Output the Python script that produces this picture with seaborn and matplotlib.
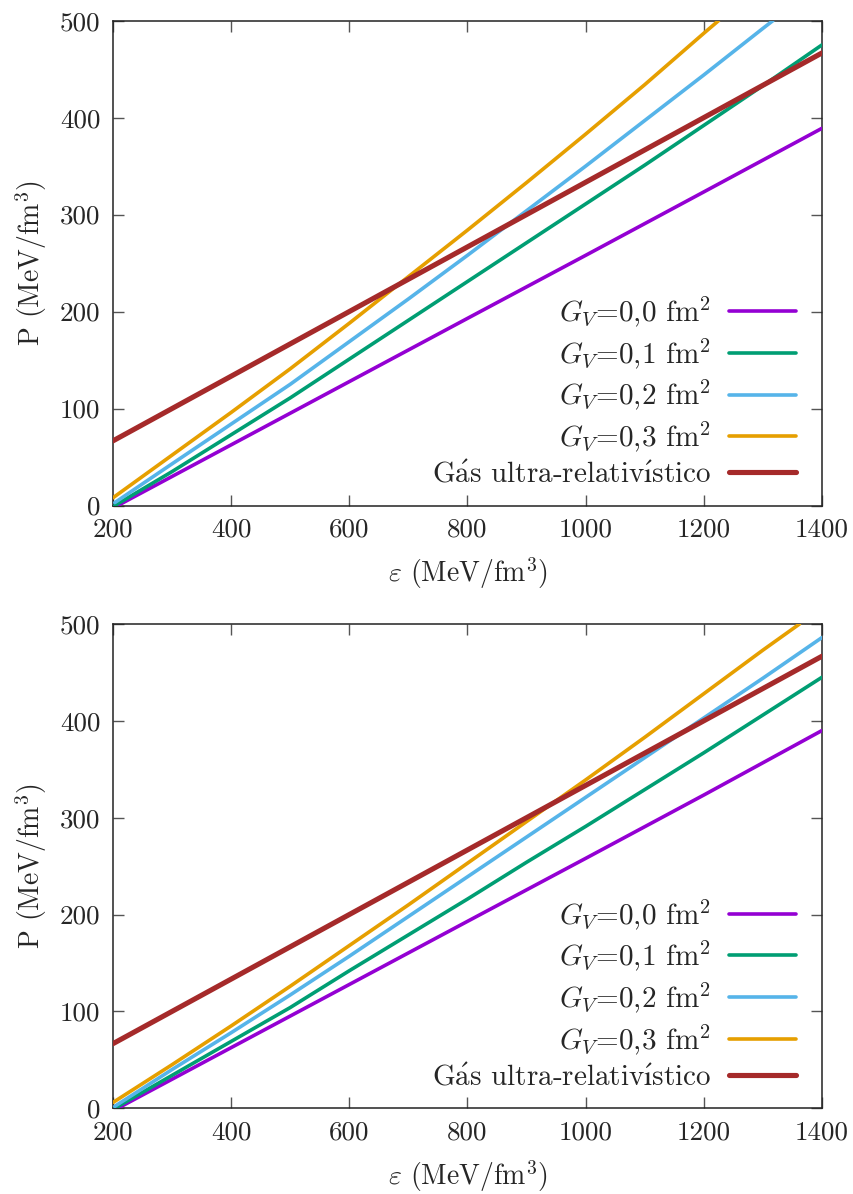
import numpy as np
import pandas as pd
import matplotlib
matplotlib.use("Agg")
import matplotlib.pyplot as plt
import seaborn as sns

# ---------------- data ----------------
# Top panel
eps_top_gv00 = [208, 400, 600, 800, 1000, 1200, 1400]
p_top_gv00 = [0, 62.6, 127.8, 193, 258, 323.4, 389]

eps_top_gv01 = [203, 300, 400, 500, 600, 700, 800, 900, 1000, 1100, 1200, 1300, 1400]
p_top_gv01 = [0, 35, 73, 111, 151, 191, 231, 271, 311, 351, 392, 433, 475]

eps_top_gv02 = [203, 300, 400, 500, 600, 700, 800, 900, 1000, 1100, 1200, 1300, 1317]
p_top_gv02 = [3, 43, 84, 125, 169, 213, 258, 304, 350, 397, 444, 492, 500]

eps_top_gv03 = [200, 300, 400, 500, 600, 700, 800, 900, 1000, 1100, 1200, 1225]
p_top_gv03 = [8, 52, 96, 141, 188, 236, 284, 333, 383, 434, 487, 500]

# Bottom panel
eps_bot_gv00 = [208, 400, 600, 800, 1000, 1200, 1400]
p_bot_gv00 = [0, 62.6, 127.8, 193, 258, 323.4, 390]

eps_bot_gv01 = [203, 300, 400, 500, 600, 700, 800, 900, 1000, 1100, 1200, 1300, 1400]
p_bot_gv01 = [0, 34, 69, 104, 142, 179, 216, 254, 291, 329, 367, 406, 445]

eps_bot_gv02 = [203, 300, 400, 500, 600, 700, 800, 900, 1000, 1100, 1200, 1300, 1400]
p_bot_gv02 = [2, 40, 78, 117, 157, 198, 239, 280, 321, 362, 403, 444, 486]

eps_bot_gv03 = [200, 300, 400, 500, 600, 700, 800, 900, 1000, 1100, 1200, 1300, 1362]
p_bot_gv03 = [6, 45, 85, 126, 168, 210, 253, 296, 339, 383, 428, 473, 500]

# Ultra-relativistic gas (both panels)
eps_gas = [200, 1400]
p_gas = [66.7, 466.7]

labels = [r"$G_V$=0,0 fm$^2$", r"$G_V$=0,1 fm$^2$", r"$G_V$=0,2 fm$^2$",
          r"$G_V$=0,3 fm$^2$",
          r"G$\mathrm{\acute{a}}$s ultra-relativ$\mathrm{\acute{\i}}$stico"]
colors = ["#9400D3", "#009E73", "#56B4E9", "#E69F00", "#A52A2A"]
xticks = [200, 400, 600, 800, 1000, 1200, 1400]
yticks = [0, 100, 200, 300, 400, 500]

# ---------------- style ----------------
sns.set_style("ticks")
plt.rcParams["font.family"] = ["cmr10", "DejaVu Serif"]
plt.rcParams["mathtext.fontset"] = "cm"
plt.rcParams["axes.formatter.use_mathtext"] = True
plt.rcParams["axes.unicode_minus"] = False

FS = 19.5
LFS = 21
fig = plt.figure(figsize=(8.54, 11.94), dpi=100)
ax_top = fig.add_axes([0.1323, 0.5766, 0.8302, 0.4061])
ax_bot = fig.add_axes([0.1323, 0.0718, 0.8302, 0.4056])

panels = [
    (ax_top, [(eps_top_gv00, p_top_gv00), (eps_top_gv01, p_top_gv01),
              (eps_top_gv02, p_top_gv02), (eps_top_gv03, p_top_gv03),
              (eps_gas, p_gas)]),
    (ax_bot, [(eps_bot_gv00, p_bot_gv00), (eps_bot_gv01, p_bot_gv01),
              (eps_bot_gv02, p_bot_gv02), (eps_bot_gv03, p_bot_gv03),
              (eps_gas, p_gas)]),
]

for ax, series in panels:
    for i, (xs, ys) in enumerate(series):
        df = pd.DataFrame({"eps": xs, "P": ys})
        lw = 3.7 if i == 4 else 2.6
        sns.lineplot(data=df, x="eps", y="P", ax=ax, color=colors[i],
                     linewidth=lw, label=labels[i], sort=False,
                     estimator=None, zorder=3 + i)
    ax.set_xlim(200, 1400)
    ax.set_ylim(0, 500)
    ax.set_xticks(xticks)
    ax.set_yticks(yticks)
    ax.set_xticklabels([str(v) for v in xticks])
    ax.set_yticklabels([str(v) for v in yticks])
    ax.tick_params(direction="in", length=8, width=1.0, color="#555555",
                   top=True, right=True, labelsize=FS, pad=9)
    for s in ax.spines.values():
        s.set_visible(True)
        s.set_color("#222222")
        s.set_linewidth(1.1)
    ax.set_xlabel(r"$\varepsilon$ (MeV/fm$^3$)", fontsize=FS + 0.5, labelpad=10)
    ax.set_ylabel(r"P (MeV/fm$^3$)", fontsize=FS + 0.5, labelpad=8)
    leg = ax.legend(loc="lower right", bbox_to_anchor=(0.963, 0.035),
                    frameon=False, markerfirst=False, fontsize=LFS,
                    handlelength=2.3, handletextpad=0.6, labelspacing=0.25,
                    borderaxespad=0, borderpad=0)

fig.savefig("out.png", dpi=100)
